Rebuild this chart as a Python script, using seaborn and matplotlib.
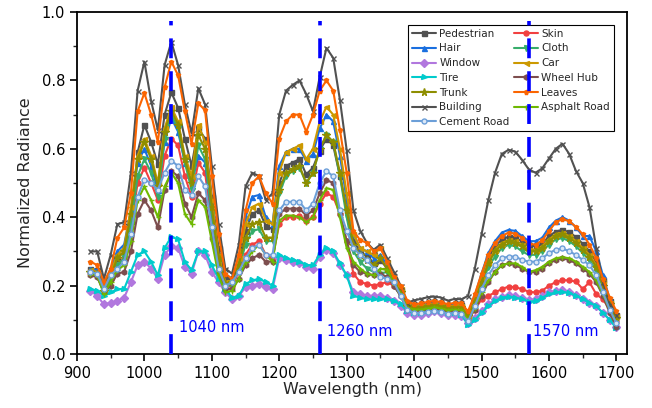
import numpy as np
import pandas as pd
import matplotlib
matplotlib.use("Agg")
import matplotlib.pyplot as plt
import seaborn as sns

wavelength = np.arange(920, 1701, 10)

pedestrian = [0.25, 0.245, 0.195, 0.235, 0.28, 0.30, 0.39, 0.59, 0.67, 0.62,
              0.555, 0.70, 0.765, 0.72, 0.63, 0.55, 0.66, 0.63, 0.46, 0.31,
              0.225, 0.215, 0.275, 0.36, 0.41, 0.42, 0.375, 0.365, 0.50, 0.55,
              0.56, 0.57, 0.525, 0.545, 0.595, 0.63, 0.61, 0.52, 0.42, 0.33,
              0.30, 0.285, 0.265, 0.275, 0.25, 0.215, 0.185, 0.145, 0.14, 0.142,
              0.146, 0.15, 0.147, 0.14, 0.145, 0.143, 0.118, 0.165, 0.225, 0.28,
              0.315, 0.335, 0.343, 0.34, 0.33, 0.318, 0.315, 0.322, 0.345, 0.358,
              0.363, 0.356, 0.342, 0.322, 0.30, 0.27, 0.215, 0.155, 0.115]
skin = [0.24, 0.235, 0.185, 0.22, 0.26, 0.28, 0.37, 0.50, 0.545, 0.50,
        0.45, 0.58, 0.63, 0.61, 0.52, 0.46, 0.56, 0.53, 0.38, 0.25,
        0.195, 0.20, 0.24, 0.29, 0.32, 0.33, 0.29, 0.28, 0.38, 0.40,
        0.40, 0.405, 0.39, 0.40, 0.44, 0.47, 0.46, 0.41, 0.33, 0.235,
        0.21, 0.205, 0.20, 0.205, 0.21, 0.20, 0.17, 0.13, 0.125, 0.127,
        0.13, 0.133, 0.13, 0.125, 0.128, 0.125, 0.10, 0.13, 0.16, 0.17,
        0.18, 0.19, 0.197, 0.195, 0.19, 0.182, 0.18, 0.185, 0.20, 0.21,
        0.216, 0.215, 0.212, 0.19, 0.21, 0.175, 0.16, 0.13, 0.095]
hair = [0.25, 0.245, 0.20, 0.25, 0.30, 0.32, 0.42, 0.56, 0.60, 0.55,
        0.48, 0.62, 0.69, 0.65, 0.56, 0.50, 0.58, 0.56, 0.41, 0.28,
        0.21, 0.21, 0.28, 0.40, 0.46, 0.465, 0.40, 0.38, 0.55, 0.59,
        0.60, 0.60, 0.565, 0.585, 0.66, 0.70, 0.68, 0.58, 0.45, 0.35,
        0.31, 0.30, 0.28, 0.29, 0.26, 0.22, 0.19, 0.145, 0.14, 0.14,
        0.145, 0.15, 0.145, 0.14, 0.145, 0.145, 0.12, 0.17, 0.235, 0.295,
        0.33, 0.355, 0.363, 0.36, 0.345, 0.33, 0.33, 0.34, 0.37, 0.39,
        0.40, 0.39, 0.37, 0.345, 0.345, 0.30, 0.23, 0.16, 0.11]
cloth = [0.235, 0.23, 0.18, 0.22, 0.26, 0.28, 0.38, 0.52, 0.57, 0.53,
         0.46, 0.63, 0.70, 0.66, 0.56, 0.48, 0.61, 0.57, 0.41, 0.27,
         0.20, 0.20, 0.25, 0.32, 0.36, 0.365, 0.33, 0.33, 0.47, 0.52,
         0.535, 0.545, 0.50, 0.53, 0.60, 0.64, 0.62, 0.52, 0.40, 0.30,
         0.27, 0.25, 0.24, 0.235, 0.24, 0.20, 0.17, 0.135, 0.13, 0.132,
         0.135, 0.138, 0.135, 0.13, 0.133, 0.13, 0.105, 0.15, 0.20, 0.255,
         0.285, 0.31, 0.319, 0.315, 0.30, 0.29, 0.29, 0.30, 0.32, 0.335,
         0.339, 0.33, 0.315, 0.295, 0.275, 0.245, 0.195, 0.14, 0.10]
window = [0.185, 0.17, 0.145, 0.15, 0.155, 0.165, 0.21, 0.26, 0.27, 0.25,
          0.22, 0.29, 0.315, 0.31, 0.255, 0.235, 0.30, 0.29, 0.24, 0.21,
          0.18, 0.16, 0.17, 0.195, 0.20, 0.205, 0.195, 0.19, 0.28, 0.275,
          0.27, 0.265, 0.255, 0.25, 0.285, 0.305, 0.295, 0.26, 0.23, 0.18,
          0.175, 0.17, 0.17, 0.17, 0.165, 0.155, 0.14, 0.12, 0.115, 0.115,
          0.12, 0.125, 0.12, 0.115, 0.115, 0.11, 0.09, 0.105, 0.125, 0.145,
          0.16, 0.168, 0.172, 0.17, 0.165, 0.158, 0.16, 0.17, 0.18, 0.185,
          0.186, 0.18, 0.172, 0.16, 0.15, 0.14, 0.12, 0.10, 0.08]
car = [0.245, 0.24, 0.19, 0.24, 0.29, 0.31, 0.43, 0.58, 0.63, 0.58,
       0.50, 0.66, 0.722, 0.68, 0.58, 0.52, 0.67, 0.62, 0.45, 0.29,
       0.21, 0.215, 0.28, 0.38, 0.43, 0.44, 0.39, 0.38, 0.53, 0.59,
       0.60, 0.61, 0.57, 0.60, 0.68, 0.723, 0.70, 0.60, 0.47, 0.35,
       0.31, 0.30, 0.29, 0.31, 0.27, 0.22, 0.19, 0.145, 0.138, 0.14,
       0.143, 0.146, 0.143, 0.138, 0.142, 0.14, 0.115, 0.16, 0.22, 0.27,
       0.305, 0.325, 0.333, 0.33, 0.32, 0.305, 0.305, 0.315, 0.335, 0.35,
       0.353, 0.345, 0.33, 0.31, 0.29, 0.26, 0.21, 0.15, 0.11]
tire = [0.19, 0.185, 0.17, 0.18, 0.19, 0.19, 0.24, 0.29, 0.30, 0.27,
        0.23, 0.31, 0.343, 0.335, 0.27, 0.245, 0.30, 0.30, 0.26, 0.22,
        0.19, 0.165, 0.17, 0.205, 0.215, 0.22, 0.21, 0.20, 0.29, 0.28,
        0.275, 0.27, 0.26, 0.26, 0.29, 0.31, 0.30, 0.265, 0.23, 0.17,
        0.165, 0.16, 0.16, 0.16, 0.16, 0.155, 0.145, 0.125, 0.12, 0.12,
        0.125, 0.13, 0.125, 0.12, 0.12, 0.115, 0.085, 0.10, 0.12, 0.14,
        0.155, 0.165, 0.168, 0.165, 0.16, 0.153, 0.155, 0.165, 0.175, 0.18,
        0.182, 0.178, 0.17, 0.16, 0.15, 0.14, 0.12, 0.10, 0.075]
wheel_hub = [0.23, 0.225, 0.18, 0.20, 0.235, 0.24, 0.30, 0.41, 0.45, 0.42,
             0.37, 0.48, 0.535, 0.52, 0.44, 0.40, 0.47, 0.45, 0.34, 0.24,
             0.19, 0.19, 0.22, 0.26, 0.28, 0.29, 0.27, 0.27, 0.41, 0.425,
             0.425, 0.425, 0.405, 0.42, 0.47, 0.509, 0.50, 0.41, 0.33, 0.26,
             0.24, 0.235, 0.23, 0.235, 0.225, 0.20, 0.17, 0.13, 0.127, 0.128,
             0.13, 0.133, 0.13, 0.125, 0.128, 0.126, 0.10, 0.13, 0.17, 0.21,
             0.24, 0.26, 0.265, 0.26, 0.25, 0.24, 0.24, 0.25, 0.265, 0.275,
             0.28, 0.275, 0.265, 0.25, 0.235, 0.21, 0.17, 0.12, 0.08]
trunk = [0.24, 0.235, 0.185, 0.23, 0.28, 0.30, 0.41, 0.57, 0.62, 0.57,
         0.49, 0.65, 0.712, 0.67, 0.57, 0.50, 0.64, 0.60, 0.43, 0.28,
         0.205, 0.21, 0.26, 0.34, 0.38, 0.385, 0.34, 0.34, 0.48, 0.53,
         0.54, 0.55, 0.50, 0.53, 0.60, 0.64, 0.62, 0.53, 0.42, 0.32,
         0.29, 0.275, 0.26, 0.28, 0.25, 0.21, 0.18, 0.14, 0.135, 0.137,
         0.14, 0.143, 0.14, 0.135, 0.138, 0.136, 0.11, 0.155, 0.21, 0.265,
         0.30, 0.32, 0.33, 0.325, 0.315, 0.30, 0.30, 0.31, 0.33, 0.345,
         0.35, 0.34, 0.325, 0.305, 0.285, 0.255, 0.20, 0.145, 0.105]
building = [0.30, 0.30, 0.22, 0.29, 0.38, 0.385, 0.53, 0.77, 0.855, 0.74,
            0.655, 0.845, 0.913, 0.845, 0.73, 0.645, 0.777, 0.73, 0.55, 0.38,
            0.25, 0.235, 0.32, 0.49, 0.53, 0.52, 0.45, 0.47, 0.70, 0.77,
            0.787, 0.80, 0.76, 0.71, 0.81, 0.895, 0.866, 0.743, 0.596, 0.42,
            0.36, 0.325, 0.305, 0.32, 0.28, 0.24, 0.20, 0.15, 0.157, 0.161,
            0.166, 0.168, 0.165, 0.156, 0.161, 0.16, 0.17, 0.25, 0.35, 0.45,
            0.53, 0.585, 0.597, 0.592, 0.568, 0.54, 0.53, 0.543, 0.572, 0.60,
            0.615, 0.585, 0.535, 0.50, 0.43, 0.31, 0.21, 0.145, 0.115]
leaves = [0.27, 0.26, 0.21, 0.25, 0.34, 0.37, 0.47, 0.71, 0.763, 0.70,
          0.62, 0.78, 0.855, 0.815, 0.71, 0.615, 0.733, 0.713, 0.52, 0.35,
          0.235, 0.22, 0.29, 0.42, 0.50, 0.52, 0.47, 0.44, 0.63, 0.68,
          0.70, 0.70, 0.65, 0.70, 0.77, 0.80, 0.77, 0.655, 0.53, 0.36,
          0.333, 0.325, 0.30, 0.31, 0.27, 0.225, 0.20, 0.155, 0.145, 0.148,
          0.152, 0.155, 0.152, 0.145, 0.15, 0.148, 0.125, 0.175, 0.235, 0.29,
          0.325, 0.345, 0.355, 0.352, 0.34, 0.322, 0.32, 0.332, 0.36, 0.385,
          0.395, 0.388, 0.372, 0.35, 0.32, 0.28, 0.22, 0.165, 0.125]
asphalt_road = [0.235, 0.23, 0.175, 0.21, 0.245, 0.26, 0.33, 0.45, 0.49, 0.45,
                0.40, 0.49, 0.53, 0.50, 0.41, 0.38, 0.45, 0.43, 0.33, 0.23,
                0.18, 0.185, 0.22, 0.27, 0.30, 0.32, 0.29, 0.27, 0.39, 0.405,
                0.405, 0.40, 0.385, 0.40, 0.45, 0.485, 0.48, 0.40, 0.31, 0.27,
                0.25, 0.235, 0.23, 0.25, 0.245, 0.21, 0.175, 0.135, 0.13, 0.13,
                0.133, 0.136, 0.133, 0.128, 0.13, 0.128, 0.10, 0.135, 0.18, 0.215,
                0.24, 0.26, 0.265, 0.265, 0.255, 0.24, 0.245, 0.255, 0.27, 0.28,
                0.283, 0.28, 0.27, 0.255, 0.24, 0.215, 0.175, 0.13, 0.09]
cement_road = [0.24, 0.235, 0.19, 0.23, 0.25, 0.27, 0.35, 0.46, 0.51, 0.50,
               0.48, 0.53, 0.565, 0.55, 0.48, 0.465, 0.52, 0.49, 0.37, 0.25,
               0.20, 0.21, 0.24, 0.28, 0.31, 0.32, 0.29, 0.29, 0.42, 0.445,
               0.445, 0.445, 0.42, 0.44, 0.50, 0.535, 0.52, 0.42, 0.36, 0.31,
               0.29, 0.275, 0.25, 0.225, 0.22, 0.21, 0.17, 0.13, 0.12, 0.12,
               0.123, 0.126, 0.123, 0.118, 0.12, 0.118, 0.095, 0.14, 0.19, 0.23,
               0.26, 0.28, 0.285, 0.285, 0.275, 0.27, 0.27, 0.28, 0.295, 0.305,
               0.309, 0.30, 0.29, 0.275, 0.26, 0.23, 0.18, 0.13, 0.09]

names = ["Pedestrian", "Skin", "Hair", "Cloth", "Window", "Car", "Tire",
         "Wheel Hub", "Trunk", "Building", "Leaves", "Asphalt Road", "Cement Road"]
series = [pedestrian, skin, hair, cloth, window, car, tire,
          wheel_hub, trunk, building, leaves, asphalt_road, cement_road]
colors = ["#515151", "#F14040", "#1A6FDF", "#37AD6B", "#B177DE", "#CC9900", "#00CBCC",
          "#7D4E4E", "#8E8E00", "#515151", "#FB6501", "#6FB802", "#6C9FD8"]
markers = ["s", "o", "^", "v", "D", "<", ">", "h", "*", "x", "p", "+", "o"]

marked_lines = [1040, 1260, 1570]
marked_text = ["1040 nm", "1260 nm", "1570 nm"]
text_x = [1052, 1271, 1576]
text_y = [0.077, 0.065, 0.065]

sns.set_style("ticks")
plt.rcParams["font.family"] = ["DejaVu Sans"]

fig = plt.figure(figsize=(6.52, 4.08), dpi=100)
ax = fig.add_axes([0.118, 0.1324, 0.844, 0.838])

df = pd.DataFrame({"Wavelength": np.tile(wavelength, len(names)),
                   "Radiance": np.concatenate([np.asarray(s, float) for s in series]),
                   "Material": np.repeat(names, len(wavelength))})

for name, col, mk in zip(names, colors, markers):
    sub = df[df["Material"] == name]
    mfc = "#DCE8F7" if name == "Cement Road" else col
    ms = 5.5 if mk == "*" else 3.6
    sns.lineplot(data=sub, x="Wavelength", y="Radiance", ax=ax, color=col,
                 marker=mk, markersize=ms, markerfacecolor=mfc, markeredgecolor=col,
                 markeredgewidth=1.0, linewidth=1.5, label=name, estimator=None,
                 sort=False)
h, l = ax.get_legend_handles_labels()
handles = dict(zip(l, h))

# dashed markers for the three selected bands
for xv in marked_lines:
    ax.plot([xv, xv], [0, 0.975], color="#0000FF", linewidth=2.6,
            linestyle=(0, (5.5, 3.6)), zorder=10, solid_capstyle="butt")
for xt, yt, t in zip(text_x, text_y, marked_text):
    ax.text(xt, yt, t, color="#0000FF", fontsize=10.5, ha="left", va="center", zorder=11)

ax.set_xlim(900, 1716)
ax.set_ylim(0, 1.0)
ax.set_xticks(np.arange(900, 1701, 100))
ax.set_xticks(np.arange(950, 1701, 100), minor=True)
ax.set_yticks(np.arange(0, 1.01, 0.2))
ax.set_yticks(np.arange(0.1, 1.0, 0.2), minor=True)
ax.set_yticklabels([f"{v:.1f}" for v in np.arange(0, 1.01, 0.2)])
ax.tick_params(axis="both", which="major", direction="out", length=5, width=1.2,
               labelsize=10.5, colors="black")
ax.tick_params(axis="both", which="minor", direction="out", length=3, width=1.0)
for sp in ax.spines.values():
    sp.set_linewidth(1.3)
    sp.set_color("black")
    sp.set_visible(True)
ax.set_xlabel("Wavelength (nm)", fontsize=11.5, labelpad=1)
ax.set_ylabel("Normalized Radiance", fontsize=11.5, labelpad=6)

order = ["Pedestrian", "Hair", "Window", "Tire", "Trunk", "Building", "Cement Road",
         "Skin", "Cloth", "Car", "Wheel Hub", "Leaves", "Asphalt Road"]
leg = ax.legend([handles[n] for n in order], order, ncol=2, loc="upper right",
                bbox_to_anchor=(0.985, 0.977), fontsize=7.5, frameon=True, fancybox=False,
                edgecolor="black", framealpha=1, handlelength=2.3, handletextpad=0.35,
                columnspacing=0.4, labelspacing=0.45, borderpad=0.35)
leg.get_frame().set_linewidth(0.8)

fig.savefig("out.png", dpi=100)
